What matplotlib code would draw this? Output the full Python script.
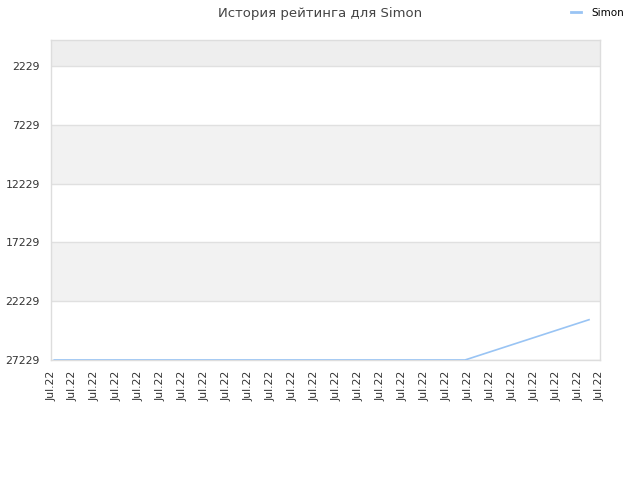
import matplotlib
matplotlib.use("Agg")
import matplotlib.pyplot as plt
from matplotlib.lines import Line2D

plt.rcParams['font.family'] = ['DejaVu Sans']

title = "История рейтинга для Simon"
series_name = "Simon"
tick_labels = ["Jul.22"] * 26
y_ticks = [2229, 7229, 12229, 17229, 22229, 27229]
# positions in label-index units and rating values
x_pos = [0.15, 18.85, 24.5]
ratings = [27229, 27229, 23800]

fig = plt.figure(figsize=(6.4, 4.8), dpi=100)
ax = fig.add_axes([51/640, 1-360/480, (600-51)/640, (360-40)/480])

ax.set_xlim(0, len(tick_labels) - 1)
ax.set_ylim(27229, 0)

# alternating bands
bounds = [0] + y_ticks
band_colors = ['#eeeeee', 'white', '#f2f2f2', 'white', '#f2f2f2', 'white']
for i in range(len(bounds) - 1):
    ax.axhspan(bounds[i], bounds[i+1], color=band_colors[i], zorder=0, lw=0)
for t in y_ticks:
    ax.axhline(t, color='#e0e0e0', lw=1, zorder=1)

ax.plot(x_pos, ratings, color='#99c4f4', lw=1.2, zorder=3)

ax.set_yticks(y_ticks)
ax.set_yticklabels([str(v) for v in y_ticks], fontsize=7.8, color='#333333')
ax.set_xticks(range(len(tick_labels)))
ax.set_xticklabels(tick_labels, rotation=90, fontsize=7.8, color='#333333')
ax.tick_params(axis='y', length=0, pad=8)
ax.tick_params(axis='x', length=0, pad=8)

for s in ax.spines.values():
    s.set_color('#dddddd')
    s.set_linewidth(1)

fig.text(0.5, 1-13/480, title, ha='center', va='center', fontsize=9.5, color='#444444')

handle = Line2D([], [], color='#99c4f4', lw=2)
fig.legend([handle], [series_name], loc='center right', bbox_to_anchor=(0.99, 1-13/480),
           frameon=False, fontsize=7.5, handlelength=1.0, handletextpad=1.0)

fig.savefig("out.png", dpi=100)
